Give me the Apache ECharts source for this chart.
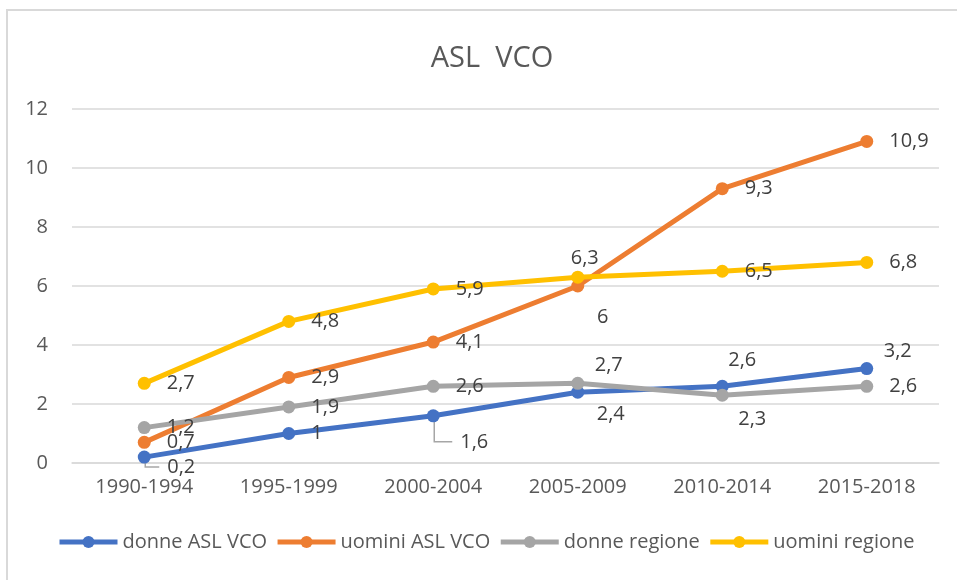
<!DOCTYPE html>
<html>
<head>
<meta charset="utf-8">
<script src="https://cdn.jsdelivr.net/npm/echarts@6/dist/echarts.min.js"></script>
<style>
    html, body { margin: 0; padding: 0; background: #fff; }
    #chart { width: 957px; height: 580px; }
</style>
</head>
<body>
<div id="chart"></div>
<script>
    const categories = ['1990-1994', '1995-1999', '2000-2004', '2005-2009', '2010-2014', '2015-2018'];
    const donneAsl = [0.2, 1, 1.6, 2.4, 2.6, 3.2];
    const uominiAsl = [0.7, 2.9, 4.1, 6, 9.3, 10.9];
    const donneRegione = [1.2, 1.9, 2.6, 2.7, 2.3, 2.6];
    const uominiRegione = [2.7, 4.8, 5.9, 6.3, 6.5, 6.8];

    // label placement per point: null = right of the point, else [dx, dy] of the label centre
    const placeDonneAsl = [[37, 10], null, [41, 26], [33, 22], [20, -26], [31, -17]];
    const placeUominiAsl = [null, null, null, [25, 31], null, null];
    const placeDonneReg = [null, null, null, [31, -18], [30, 24], null];
    const placeUominiReg = [null, null, null, [7, -19], null, null];
    // points of the first series whose label has a leader line
    const leaderDonneAsl = [0, 2];

    const font = "'Open Sans', 'Noto Sans', sans-serif";
    const chart = echarts.init(document.getElementById('chart'));

    function makeSeries(name, color, values, places) {
        return {
            name: name,
            type: 'line',
            data: values,
            symbol: 'circle',
            symbolSize: 13,
            z: 3,
            lineStyle: { color: color, width: 5 },
            itemStyle: { color: color },
            label: {
                show: true,
                position: 'right',
                distance: 16,
                color: '#404040',
                fontFamily: font,
                fontSize: 20,
                formatter: function (p) {
                    return String(p.value).replace('.', ',');
                }
            },
            labelLayout: function (params) {
                let p = places[params.dataIndex];
                if (!p) return {};
                let r = params.rect;
                return {
                    x: r.x + r.width / 2 + p[0],
                    y: r.y + r.height / 2 + p[1],
                    align: 'center',
                    verticalAlign: 'middle'
                };
            }
        };
    }

    chart.setOption({
        animation: false,
        title: {
            text: 'ASL  VCO',
            left: 487,
            textAlign: 'center',
            top: 39,
            textStyle: { color: '#595959', fontFamily: font, fontSize: 29, fontWeight: 'normal' }
        },
        graphic: [{
            id: 'frame',
            type: 'rect',
            shape: { x: 7, y: 10, width: 960, height: 600 },
            style: { fill: 'none', stroke: '#D9D9D9', lineWidth: 2 },
            silent: true
        }],
        legend: {
            bottom: 23,
            left: 52,
            itemWidth: 58,
            itemHeight: 15,
            itemGap: 8,
            lineStyle: { width: 5 },
            textStyle: { color: '#595959', fontFamily: font, fontSize: 20 },
            data: ['donne ASL VCO', 'uomini ASL VCO', 'donne regione', 'uomini regione']
        },
        grid: { left: 72, right: 18, top: 109, bottom: 117 },
        xAxis: {
            type: 'category',
            data: categories,
            boundaryGap: true,
            axisLine: { lineStyle: { color: '#D9D9D9', width: 1.5 } },
            axisTick: { show: false },
            axisLabel: { color: '#595959', fontFamily: font, fontSize: 20, margin: 14 }
        },
        yAxis: {
            type: 'value',
            min: 0,
            max: 12,
            interval: 2,
            axisLine: { show: false },
            axisTick: { show: false },
            splitLine: { lineStyle: { color: '#D9D9D9', width: 1.5 } },
            axisLabel: { color: '#595959', fontFamily: font, fontSize: 20, margin: 24 }
        },
        series: [
            makeSeries('donne ASL VCO', '#4472C4', donneAsl, placeDonneAsl),
            makeSeries('uomini ASL VCO', '#ED7D31', uominiAsl, placeUominiAsl),
            makeSeries('donne regione', '#A5A5A5', donneRegione, placeDonneReg),
            makeSeries('uomini regione', '#FFC000', uominiRegione, placeUominiReg)
        ]
    });

    // leader lines from the point down and across to its label
    let leaders = leaderDonneAsl.map(function (i) {
        let pt = chart.convertToPixel({ seriesIndex: 0 }, [i, donneAsl[i]]);
        let off = placeDonneAsl[i];
        let ly = pt[1] + off[1];
        return {
            id: 'leader' + i,
            type: 'polyline',
            z: 2,
            silent: true,
            shape: { points: [[pt[0] + 1, pt[1] + 6], [pt[0] + 1, ly], [pt[0] + off[0] - 22, ly]] },
            style: { fill: 'none', stroke: '#A6A6A6', lineWidth: 1.5 }
        };
    });
    chart.setOption({ graphic: leaders });
</script>
</body>
</html>
